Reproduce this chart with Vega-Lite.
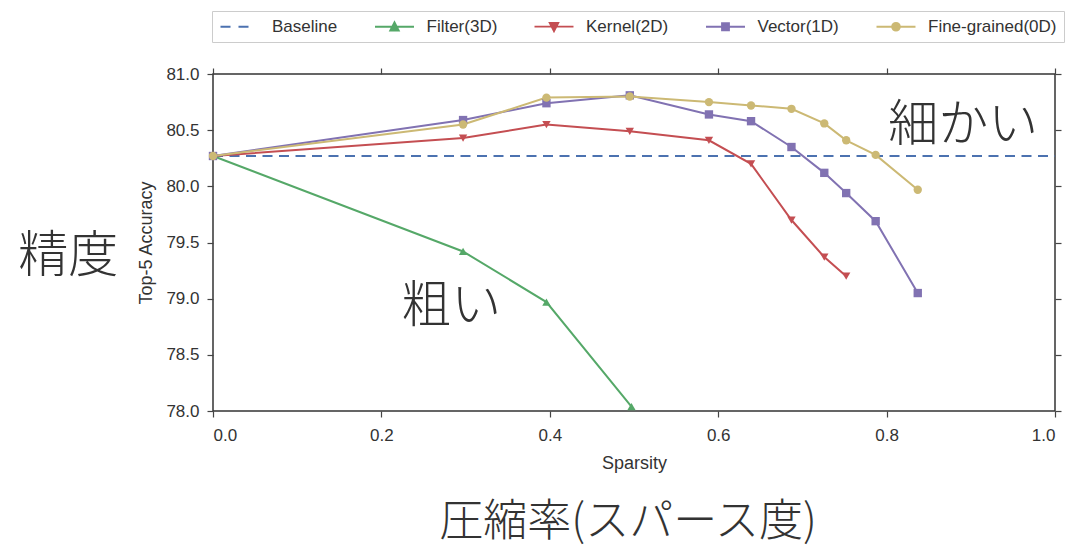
{
  "$schema": "https://vega.github.io/schema/vega-lite/v6.json",
  "width": 842,
  "height": 337,
  "autosize": {"type": "none"},
  "padding": {"left": 213, "top": 74, "right": 14, "bottom": 134},
  "background": "white",
  "config": {
    "view": {"stroke": "#333333", "strokeWidth": 1.5},
    "font": "Liberation Sans",
    "axis": {
      "grid": false,
      "domain": false,
      "tickColor": "#444444",
      "tickWidth": 1.2,
      "tickSize": 6,
      "labelFont": "Liberation Sans",
      "labelFontSize": 17,
      "labelColor": "#333333",
      "titleFont": "Liberation Sans",
      "titleFontSize": 18,
      "titleFontWeight": "normal",
      "titleColor": "#333333"
    }
  },
  "datasets": {
    "series": [
      {"series": "Baseline", "sparsity": 0.0, "accuracy": 80.27},
      {"series": "Baseline", "sparsity": 1.0, "accuracy": 80.27},
      {"series": "Filter(3D)", "sparsity": 0.0, "accuracy": 80.27},
      {"series": "Filter(3D)", "sparsity": 0.297, "accuracy": 79.42},
      {"series": "Filter(3D)", "sparsity": 0.396, "accuracy": 78.97},
      {"series": "Filter(3D)", "sparsity": 0.497, "accuracy": 78.04},
      {"series": "Kernel(2D)", "sparsity": 0.0, "accuracy": 80.27},
      {"series": "Kernel(2D)", "sparsity": 0.297, "accuracy": 80.43},
      {"series": "Kernel(2D)", "sparsity": 0.396, "accuracy": 80.55},
      {"series": "Kernel(2D)", "sparsity": 0.495, "accuracy": 80.49},
      {"series": "Kernel(2D)", "sparsity": 0.589, "accuracy": 80.41},
      {"series": "Kernel(2D)", "sparsity": 0.639, "accuracy": 80.2},
      {"series": "Kernel(2D)", "sparsity": 0.687, "accuracy": 79.7},
      {"series": "Kernel(2D)", "sparsity": 0.726, "accuracy": 79.37},
      {"series": "Kernel(2D)", "sparsity": 0.752, "accuracy": 79.2},
      {"series": "Vector(1D)", "sparsity": 0.0, "accuracy": 80.27},
      {"series": "Vector(1D)", "sparsity": 0.297, "accuracy": 80.59},
      {"series": "Vector(1D)", "sparsity": 0.396, "accuracy": 80.74},
      {"series": "Vector(1D)", "sparsity": 0.495, "accuracy": 80.81},
      {"series": "Vector(1D)", "sparsity": 0.589, "accuracy": 80.64},
      {"series": "Vector(1D)", "sparsity": 0.639, "accuracy": 80.58},
      {"series": "Vector(1D)", "sparsity": 0.687, "accuracy": 80.35},
      {"series": "Vector(1D)", "sparsity": 0.726, "accuracy": 80.12},
      {"series": "Vector(1D)", "sparsity": 0.752, "accuracy": 79.94},
      {"series": "Vector(1D)", "sparsity": 0.787, "accuracy": 79.69},
      {"series": "Vector(1D)", "sparsity": 0.837, "accuracy": 79.05},
      {"series": "Fine-grained(0D)", "sparsity": 0.0, "accuracy": 80.27},
      {"series": "Fine-grained(0D)", "sparsity": 0.297, "accuracy": 80.55},
      {"series": "Fine-grained(0D)", "sparsity": 0.396, "accuracy": 80.79},
      {"series": "Fine-grained(0D)", "sparsity": 0.495, "accuracy": 80.8},
      {"series": "Fine-grained(0D)", "sparsity": 0.589, "accuracy": 80.75},
      {"series": "Fine-grained(0D)", "sparsity": 0.639, "accuracy": 80.72},
      {"series": "Fine-grained(0D)", "sparsity": 0.687, "accuracy": 80.69},
      {"series": "Fine-grained(0D)", "sparsity": 0.726, "accuracy": 80.56},
      {"series": "Fine-grained(0D)", "sparsity": 0.752, "accuracy": 80.41},
      {"series": "Fine-grained(0D)", "sparsity": 0.787, "accuracy": 80.28},
      {"series": "Fine-grained(0D)", "sparsity": 0.837, "accuracy": 79.97}
    ],
    "notes": [
      {"label": "精度", "sparsity": -0.172, "accuracy": 79.37},
      {"label": "粗い", "sparsity": 0.283, "accuracy": 78.93},
      {"label": "細かい", "sparsity": 0.891, "accuracy": 80.535}
    ],
    "caption": [
      {"label": "圧縮率(スパース度)", "sparsity": 0.493, "accuracy": 77.005}
    ]
  },
  "layer": [
    {
      "data": {"name": "series"},
      "transform": [{"filter": "datum.series === 'Baseline'"}],
      "mark": {"type": "line", "strokeDash": [10, 6.5], "strokeWidth": 2},
      "encoding": {
        "x": {
          "field": "sparsity", "type": "quantitative",
          "scale": {"domain": [0, 1], "nice": false, "zero": false},
          "axis": {"orient": "bottom", "title": "Sparsity", "values": [0, 0.2, 0.4, 0.6, 0.8, 1.0], "format": ".1f", "labelPadding": 10, "titlePadding": 11}
        },
        "y": {
          "field": "accuracy", "type": "quantitative",
          "scale": {"domain": [78, 81], "nice": false, "zero": false},
          "axis": {"orient": "left", "title": "Top-5 Accuracy", "values": [78, 78.5, 79, 79.5, 80, 80.5, 81], "format": ".1f", "labelPadding": 8, "titlePadding": 10}
        },
        "color": {
          "field": "series", "type": "nominal",
          "scale": {
            "domain": ["Baseline", "Filter(3D)", "Kernel(2D)", "Vector(1D)", "Fine-grained(0D)"],
            "range": ["#4C72B0", "#55A868", "#C44E52", "#8172B2", "#CCB974"]
          },
          "legend": {
            "orient": "none",
            "legendX": -1,
            "legendY": -63,
            "direction": "horizontal",
            "title": null,
            "labelFont": "Liberation Sans",
            "labelFontSize": 17,
            "labelColor": "#333333",
            "strokeColor": "#cccccc",
            "fillColor": "white",
            "padding": 7,
            "columnPadding": 32.5,
            "labelOffset": 36,
            "symbolSize": 196,
            "symbolStrokeWidth": 1.8,
            "encode": {
              "symbols": {
                "update": {
                  "shape": {"signal": "datum.value === 'Baseline' ? 'M-1,0H0.43M1.57,0H3' : datum.value === 'Filter(3D)' ? 'M-1,0H4.57M1.17,0.55L2.4,0.55L1.785,-0.65Z' : datum.value === 'Kernel(2D)' ? 'M-1,0H4.57M1.17,-0.55L2.4,-0.55L1.785,0.65Z' : datum.value === 'Vector(1D)' ? 'M-1,0H4.57M1.285,-0.5H2.285V0.5H1.285Z' : 'M-1,0H4.57M1.225,0A0.56,0.56,0,1,0,2.345,0A0.56,0.56,0,1,0,1.225,0Z'"},
                  "fill": {"signal": "scale('color', datum.value)"},
                  "stroke": {"signal": "scale('color', datum.value)"},
                  "strokeWidth": {"value": 1.8},
                  "opacity": {"value": 1}
                }
              }
            }
          }
        }
      }
    },
    {
      "data": {"name": "series"},
      "transform": [{"filter": "datum.series !== 'Baseline'"}],
      "mark": {"type": "line", "strokeWidth": 2},
      "encoding": {
        "x": {"field": "sparsity", "type": "quantitative", "axis": {"orient": "top", "labels": false, "title": null, "values": [0, 0.2, 0.4, 0.6, 0.8, 1.0]}},
        "y": {"field": "accuracy", "type": "quantitative", "axis": {"orient": "right", "labels": false, "title": null, "values": [78, 78.5, 79, 79.5, 80, 80.5, 81]}},
        "color": {"field": "series", "type": "nominal"}
      }
    },
    {
      "data": {"name": "series"},
      "transform": [{"filter": "datum.series !== 'Baseline'"}],
      "mark": {"type": "point", "filled": true, "size": 70, "opacity": 1},
      "encoding": {
        "x": {"field": "sparsity", "type": "quantitative", "axis": null},
        "y": {"field": "accuracy", "type": "quantitative", "axis": null},
        "color": {"field": "series", "type": "nominal"},
        "shape": {
          "field": "series", "type": "nominal",
          "scale": {"domain": ["Filter(3D)", "Kernel(2D)", "Vector(1D)", "Fine-grained(0D)"], "range": ["triangle-up", "triangle-down", "square", "circle"]},
          "legend": null
        }
      }
    },
    {
      "data": {"name": "notes"},
      "mark": {"type": "text", "font": "Noto Sans CJK JP", "fontSize": 50, "fontWeight": 300, "color": "#333333", "align": "center", "baseline": "middle"},
      "encoding": {
        "x": {"field": "sparsity", "type": "quantitative", "axis": null},
        "y": {"field": "accuracy", "type": "quantitative", "axis": null},
        "text": {"field": "label"}
      }
    },
    {
      "data": {"name": "caption"},
      "mark": {"type": "text", "font": "Noto Sans CJK JP", "fontSize": 44, "fontWeight": 300, "color": "#333333", "align": "center", "baseline": "middle"},
      "encoding": {
        "x": {"field": "sparsity", "type": "quantitative", "axis": null},
        "y": {"field": "accuracy", "type": "quantitative", "axis": null},
        "text": {"field": "label"}
      }
    }
  ],
  "resolve": {"axis": {"x": "independent", "y": "independent"}}
}
